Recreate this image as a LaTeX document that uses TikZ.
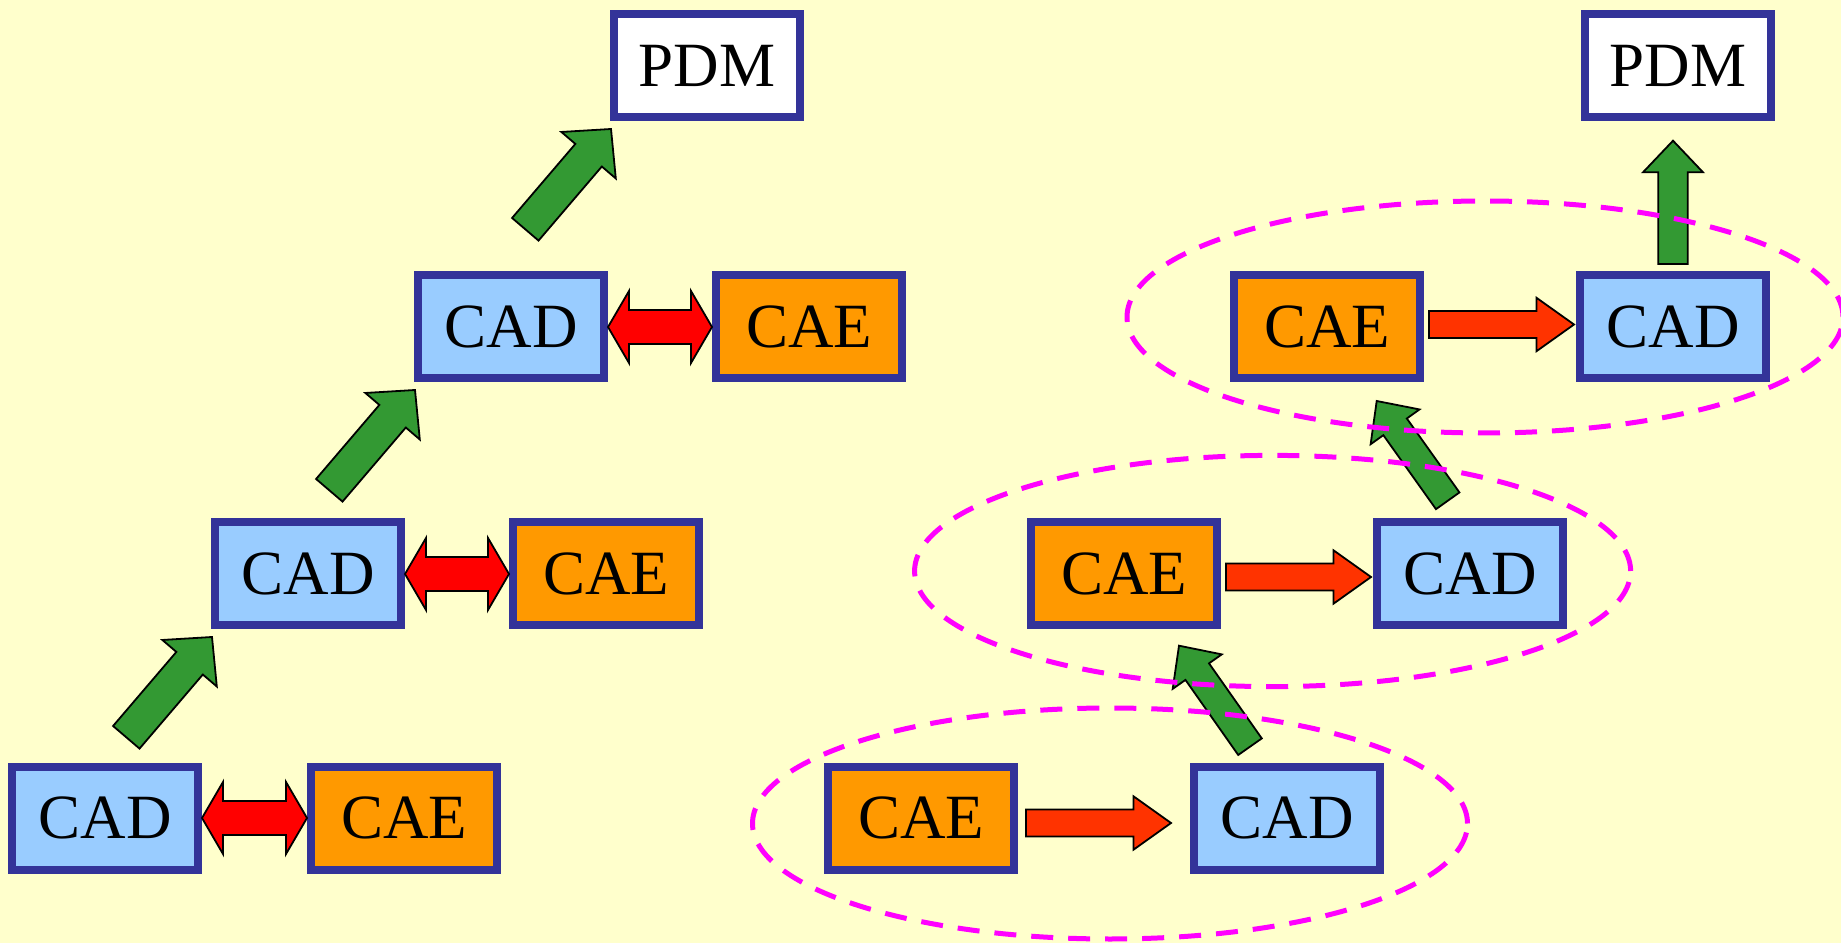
\documentclass[tikz,border=0pt]{standalone}
\usepackage{fontspec}
\setmainfont{Liberation Serif}
\usetikzlibrary{calc}

\definecolor{paper}{HTML}{FFFFCC}
\definecolor{boxframe}{HTML}{333399}
\definecolor{cadfill}{HTML}{99CCFF}
\definecolor{caefill}{HTML}{FF9900}
\definecolor{upgreen}{HTML}{339933}
\definecolor{swapred}{HTML}{FF0000}
\definecolor{feedred}{HTML}{FF3300}
\definecolor{groupmag}{HTML}{FF00FF}

\tikzset{
  blockbox/.style={draw=boxframe, line width=8pt, minimum width=186pt, minimum height=103pt, inner sep=0pt, font=\fontsize{63}{70}\selectfont},
  cadbox/.style={blockbox, fill=cadfill},
  caebox/.style={blockbox, fill=caefill},
  pdmbox/.style={blockbox, fill=white},
  uparrow/.style={draw=black, line width=1.8pt, fill=upgreen},
  swaparrow/.style={draw=black, line width=1.8pt, fill=swapred},
  feedarrow/.style={draw=black, line width=1.8pt, fill=feedred},
  grouping/.style={draw=groupmag, line width=5pt, dash pattern=on 22pt off 15pt}
}

% #1 style, #2 tail, #3 tip, #4 half shaft, #5 half head, #6 head length
\newcommand\blockarrow[6]{%
  \coordinate (ba) at ($(#3)!#6!(#2)$);
  \draw[#1] ($(#2)!#4!90:(#3)$) -- ($(ba)!#4!90:(#3)$) -- ($(ba)!#5!90:(#3)$) -- (#3)
    -- ($(ba)!#5!-90:(#3)$) -- ($(ba)!#4!-90:(#3)$) -- ($(#2)!#4!-90:(#3)$) -- cycle;
}
\newcommand\twowayarrow[6]{%
  \coordinate (bb) at ($(#2)!#6!(#3)$);
  \coordinate (bc) at ($(#3)!#6!(#2)$);
  \draw[#1] (#2) -- ($(bb)!#5!90:(#3)$) -- ($(bb)!#4!90:(#3)$) -- ($(bc)!#4!90:(#3)$)
    -- ($(bc)!#5!90:(#3)$) -- (#3) -- ($(bc)!#5!-90:(#3)$) -- ($(bc)!#4!-90:(#3)$)
    -- ($(bb)!#4!-90:(#3)$) -- ($(bb)!#5!-90:(#3)$) -- cycle;
}

\begin{document}
\begin{tikzpicture}[x=1pt,y=1pt]
\fill[paper] (0,0) rectangle (1841,943);
\useasboundingbox (0,0) rectangle (1841,943);

\node[cadbox] (cadA) at (105,125) {CAD};
\node[caebox] (caeA) at (404,125) {CAE};
\node[cadbox] (cadB) at (308,369) {CAD};
\node[caebox] (caeB) at (606,369) {CAE};
\node[cadbox] (cadC) at (511,616) {CAD};
\node[caebox] (caeC) at (809,616) {CAE};
\node[pdmbox] (pdmL) at (707,877) {PDM};

\node[caebox] (caeD) at (921,125) {CAE};
\node[cadbox] (cadD) at (1287,125) {CAD};
\node[caebox] (caeE) at (1124,369) {CAE};
\node[cadbox] (cadE) at (1470,369) {CAD};
\node[caebox] (caeF) at (1327,616) {CAE};
\node[cadbox] (cadF) at (1673,616) {CAD};
\node[pdmbox] (pdmR) at (1678,877) {PDM};

\twowayarrow{swaparrow}{cadA.east}{caeA.west}{17pt}{36pt}{21pt}
\twowayarrow{swaparrow}{cadB.east}{caeB.west}{17pt}{36pt}{21pt}
\twowayarrow{swaparrow}{cadC.east}{caeC.west}{17pt}{36pt}{21pt}

\coordinate (upA0) at ($(cadB)+(-181.7,-163.3)$);
\coordinate (upA1) at ($(cadB)+(-96,-63)$);
\coordinate (upB0) at ($(cadC)+(-181.7,-163.3)$);
\coordinate (upB1) at ($(cadC)+(-96,-63)$);
\coordinate (upC0) at ($(pdmL)+(-181.7,-163.3)$);
\coordinate (upC1) at ($(pdmL)+(-96,-63)$);
\blockarrow{uparrow}{upA0}{upA1}{17.4pt}{35.8pt}{34.5pt}
\blockarrow{uparrow}{upB0}{upB1}{17.4pt}{35.8pt}{34.5pt}
\blockarrow{uparrow}{upC0}{upC1}{17.4pt}{35.8pt}{34.5pt}

\coordinate (feD0) at ($(caeD.east)+(8,-5)$);
\coordinate (feD1) at ($(cadD.west)+(-19,-5)$);
\coordinate (feE0) at ($(caeE.east)+(5,-3)$);
\coordinate (feE1) at ($(cadE.west)+(-2,-3)$);
\coordinate (feF0) at ($(caeF.east)+(5,2.5)$);
\coordinate (feF1) at ($(cadF.west)+(-2,2.5)$);
\blockarrow{feedarrow}{feD0}{feD1}{13.5pt}{26.7pt}{37.5pt}
\blockarrow{feedarrow}{feE0}{feE1}{13.5pt}{26.7pt}{37.5pt}
\blockarrow{feedarrow}{feF0}{feF1}{13.5pt}{26.7pt}{37.5pt}

\coordinate (upD0) at ($(cadD)+(-37,71.3)$);
\coordinate (upD1) at ($(caeE)+(55,-71.7)$);
\coordinate (upE0) at ($(cadE)+(-22.3,73.2)$);
\coordinate (upE1) at ($(caeF)+(49.7,-74)$);
\coordinate (upF0) at ($(cadF)+(0,63)$);
\coordinate (upF1) at ($(cadF)+(0,186.3)$);
\blockarrow{uparrow}{upD0}{upD1}{14.4pt}{30pt}{31.7pt}
\blockarrow{uparrow}{upE0}{upE1}{14.4pt}{30pt}{31.7pt}
\blockarrow{uparrow}{upF0}{upF1}{14.7pt}{30pt}{31.6pt}

\draw[grouping] (1110,119.5) ellipse [x radius=357.5pt, y radius=115.5pt];
\draw[grouping] (1272.6,372) ellipse [x radius=358pt, y radius=115.6pt];
\draw[grouping] (1485,626) ellipse [x radius=358pt, y radius=116pt];
\end{tikzpicture}
\end{document}
